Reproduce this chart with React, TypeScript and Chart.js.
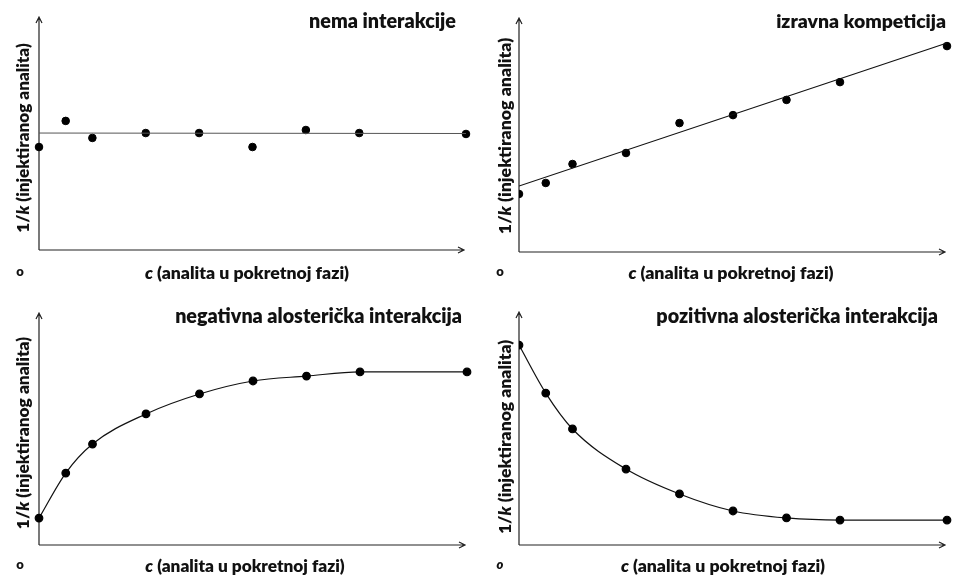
import React, { useEffect, useRef } from "react";
import { Chart, registerables } from "chart.js";

Chart.register(...registerables);

// ---- data ----
const cValues = [0, 0.5, 1, 2, 3, 4, 5, 6, 8];
const fitEndsX = [0, 8];

const noneValues = [4.42, 5.54, 4.81, 5.02, 5.02, 4.42, 5.15, 5.02, 4.98];
const noneFitY = [5.02, 5.0];

const competitionValues = [2.48, 2.95, 3.76, 4.23, 5.51, 5.85, 6.5, 7.26, 8.8];
const competitionFitY = [2.82, 8.93];

const negativeValues = [1.16, 3.1, 4.35, 5.65, 6.51, 7.07, 7.28, 7.46, 7.46];
const positiveValues = [8.58, 6.52, 4.98, 3.26, 2.19, 1.46, 1.16, 1.07, 1.07];

const panelTitles = [
  "nema interakcije",
  "izravna kompeticija",
  "negativna alosterička interakcija",
  "pozitivna alosterička interakcija",
];
const yTitleParts = ["1/", "k", " (injektiranog analita)"];
const xTitleParts = ["c", " (analita u pokretnoj fazi)"];
const originLabel = "o";

const FONT = "Lato, 'Open Sans', sans-serif";
const WEIGHT = "800";

type Layout = {
  left: number; top: number; width: number; height: number;
  pad: { left: number; right: number; top: number; bottom: number };
  titleRight: number; titleBase: number; titleW: number;
  yT: { x: number; y: number; len: number };
  xT: { x: number; y: number; w: number };
  zero: { x: number; y: number; italic: boolean };
  halfClip: boolean;
};

const layouts: Layout[] = [
  {
    left: 0, top: 0, width: 476, height: 288,
    pad: { left: 39, right: 10, top: 17, bottom: 38 },
    titleRight: 456, titleBase: 28, titleW: 147,
    yT: { x: 23, y: 138, len: 190 },
    xT: { x: 247, y: 273, w: 205 },
    zero: { x: 20, y: 272, italic: false },
    halfClip: false,
  },
  {
    left: 476, top: 0, width: 477, height: 288,
    pad: { left: 43, right: 6, top: 18, bottom: 36 },
    titleRight: 470, titleBase: 28, titleW: 170,
    yT: { x: 29, y: 136, len: 197 },
    xT: { x: 255, y: 273, w: 206 },
    zero: { x: 24, y: 272, italic: false },
    halfClip: true,
  },
  {
    left: 0, top: 288, width: 476, height: 288,
    pad: { left: 39, right: 9, top: 25, bottom: 31 },
    titleRight: 462, titleBase: 35, titleW: 287,
    yT: { x: 23, y: 145, len: 193 },
    xT: { x: 245, y: 278, w: 200 },
    zero: { x: 20, y: 277, italic: false },
    halfClip: false,
  },
  {
    left: 476, top: 288, width: 477, height: 288,
    pad: { left: 43, right: 6, top: 24, bottom: 31 },
    titleRight: 462, titleBase: 35, titleW: 282,
    yT: { x: 29, y: 149, len: 195 },
    xT: { x: 247, y: 278, w: 205 },
    zero: { x: 24, y: 277, italic: true },
    halfClip: true,
  },
];

function toPts(xs: number[], ys: number[]) {
  return xs.map((x, i) => ({ x, y: ys[i] }));
}

function fitSize(ctx: CanvasRenderingContext2D, text: string, target: number) {
  ctx.font = `${WEIGHT} 100px ${FONT}`;
  const w = ctx.measureText(text).width;
  return (100 * target) / w;
}

function drawParts(ctx: CanvasRenderingContext2D, parts: string[], italicIdx: number, size: number, cx: number) {
  const fonts = parts.map((_, i) => `${i === italicIdx ? "italic " : ""}${WEIGHT} ${size}px ${FONT}`);
  const widths = parts.map((p, i) => { ctx.font = fonts[i]; return ctx.measureText(p).width; });
  const total = widths.reduce((a, b) => a + b, 0);
  let x = cx - total / 2;
  parts.forEach((p, i) => {
    ctx.font = fonts[i];
    ctx.fillText(p, x, 0);
    x += widths[i];
  });
}

function makeDecor(idx: number) {
  const L = layouts[idx];
  return {
    id: "decor" + idx,
    beforeDatasetsDraw(chart: any) {
      const { ctx, chartArea } = chart;
      const { left, right, top, bottom } = chartArea;
      ctx.save();
      ctx.strokeStyle = "#222";
      ctx.lineWidth = 1.2;
      ctx.beginPath();
      ctx.moveTo(left, bottom);
      ctx.lineTo(left, top);
      ctx.moveTo(left - 3, top + 6);
      ctx.lineTo(left, top);
      ctx.lineTo(left + 3, top + 6);
      ctx.moveTo(left, bottom);
      ctx.lineTo(right - 2, bottom);
      ctx.moveTo(right - 8, bottom - 3);
      ctx.lineTo(right - 2, bottom);
      ctx.lineTo(right - 8, bottom + 3);
      ctx.stroke();
      ctx.restore();
    },
    afterDraw(chart: any) {
      const { ctx } = chart;
      ctx.save();
      ctx.fillStyle = "#111";
      ctx.textBaseline = "alphabetic";
      // title
      const tSize = fitSize(ctx, panelTitles[idx], L.titleW);
      ctx.font = `${WEIGHT} ${tSize}px ${FONT}`;
      ctx.textAlign = "right";
      ctx.fillText(panelTitles[idx], L.titleRight, L.titleBase);
      ctx.textAlign = "left";
      // x title
      const xSize = fitSize(ctx, xTitleParts.join(""), L.xT.w);
      ctx.save();
      ctx.translate(0, L.xT.y + xSize * 0.35);
      drawParts(ctx, xTitleParts, 0, xSize, L.xT.x);
      ctx.restore();
      // y title
      const ySize = fitSize(ctx, yTitleParts.join(""), L.yT.len);
      ctx.save();
      ctx.translate(L.yT.x + ySize * 0.35, L.yT.y);
      ctx.rotate(-Math.PI / 2);
      drawParts(ctx, yTitleParts, 1, ySize, 0);
      ctx.restore();
      // origin
      ctx.font = `${L.zero.italic ? "italic " : ""}${WEIGHT} 13px ${FONT}`;
      ctx.textAlign = "center";
      ctx.textBaseline = "middle";
      ctx.fillText(originLabel, L.zero.x, L.zero.y);
      ctx.restore();
    },
  };
}

function buildDatasets(idx: number) {
  const clip = layouts[idx].halfClip
    ? { left: 0, top: false, right: false, bottom: false }
    : false;
  const pointStyle = {
    showLine: false,
    pointRadius: 3.8,
    pointBackgroundColor: "#000",
    pointBorderColor: "#000",
    borderColor: "#000",
    clip,
  };
  if (idx === 0) {
    return [
      { data: toPts(fitEndsX, noneFitY), showLine: true, pointRadius: 0, borderColor: "#555", borderWidth: 1, clip },
      { data: toPts(cValues, noneValues), ...pointStyle },
    ];
  }
  if (idx === 1) {
    return [
      { data: toPts(fitEndsX, competitionFitY), showLine: true, pointRadius: 0, borderColor: "#111", borderWidth: 1.2, clip },
      { data: toPts(cValues, competitionValues), ...pointStyle },
    ];
  }
  const vals = idx === 2 ? negativeValues : positiveValues;
  return [
    {
      data: toPts(cValues, vals),
      ...pointStyle,
      showLine: true,
      borderColor: "#111",
      borderWidth: 1.2,
      cubicInterpolationMode: "monotone",
    },
  ];
}

function Panel({ idx }: { idx: number }) {
  const ref = useRef<HTMLCanvasElement>(null);
  const L = layouts[idx];
  useEffect(() => {
    if (!ref.current) return;
    const chart = new Chart(ref.current, {
      type: "scatter",
      data: { datasets: buildDatasets(idx) as any },
      options: {
        animation: false,
        responsive: false,
        devicePixelRatio: 1,
        events: [],
        layout: { padding: L.pad },
        plugins: { legend: { display: false }, tooltip: { enabled: false } },
        scales: {
          x: { type: "linear", min: 0, max: 8, display: false },
          y: { type: "linear", min: 0, max: 10, display: false },
        },
      } as any,
      plugins: [makeDecor(idx)],
    });
    return () => chart.destroy();
  }, [idx]);
  return (
    <canvas
      ref={ref}
      width={L.width}
      height={L.height}
      style={{ position: "absolute", left: L.left, top: L.top, width: L.width, height: L.height }}
    />
  );
}

export default function App() {
  return (
    <div style={{ position: "absolute", left: 0, top: 0, width: 953, height: 576, background: "#fff", overflow: "hidden" }}>
      {layouts.map((_, i) => (
        <Panel key={i} idx={i} />
      ))}
    </div>
  );
}
